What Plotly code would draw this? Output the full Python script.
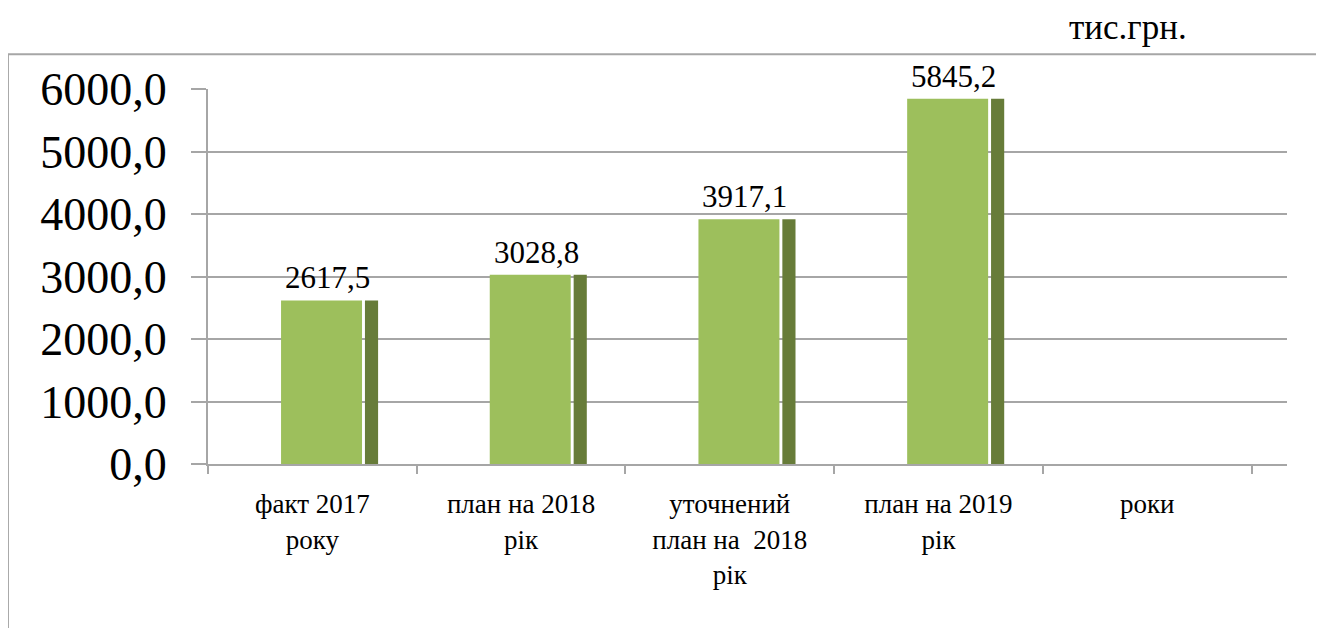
import plotly.graph_objects as go

categories = ["факт 2017<br>року", "план на 2018<br>рік", "уточнений<br>план на\u00a0 2018<br>рік",
              "план на 2019<br>рік", "роки"]
values = [2617.5, 3028.8, 3917.1, 5845.2, None]
value_labels = ["2617,5", "3028,8", "3917,1", "5845,2", ""]
y_ticks = [0, 1000, 2000, 3000, 4000, 5000, 6000]
unit_label = "тис.грн."

FONT = "Liberation Serif"
front_color = "#9DBF5C"
side_color = "#677C39"
grid_color = "#A6A6A6"

fig = go.Figure()
fig.add_trace(go.Bar(x=categories, y=values, width=0.388, offset=-0.15,
                     marker=dict(color=front_color, line=dict(width=0)), hoverinfo="y"))
fig.add_trace(go.Bar(x=categories, y=values, width=0.063, offset=0.252,
                     marker=dict(color=side_color, line=dict(width=0)), hoverinfo="skip"))

for c, v, t in zip(categories, values, value_labels):
    if v is None:
        continue
    fig.add_annotation(x=c, y=v, text=t, showarrow=False, xanchor="center", yanchor="bottom",
                       xshift=15, yshift=3, font=dict(family=FONT, size=31, color="black"))

fig.add_annotation(xref="paper", yref="paper", x=0.853, y=1.163, text=unit_label, showarrow=False,
                   xanchor="center", yanchor="middle", font=dict(family=FONT, size=35, color="black"))

# outer frame (top and left edges visible)
fig.add_shape(type="line", xref="paper", yref="paper", x0=-0.1854, x1=1.05, y0=1.093, y1=1.093,
              line=dict(color=grid_color, width=2))
fig.add_shape(type="line", xref="paper", yref="paper", x0=-0.1854, x1=-0.1854, y0=1.093, y1=-0.45,
              line=dict(color=grid_color, width=2))

fig.update_layout(
    width=1324, height=628,
    margin=dict(l=200, r=45, t=81, b=172),
    barmode="overlay",
    showlegend=False,
    plot_bgcolor="white", paper_bgcolor="white",
    separators=", ",
    font=dict(family=FONT, color="black"),
)
fig.update_xaxes(type="category", range=[-0.5, 4.67], showgrid=False, showline=True,
                 linecolor=grid_color, linewidth=2, ticks="outside", tickson="boundaries",
                 ticklen=8, tickcolor=grid_color, tickwidth=2,
                 tickfont=dict(family=FONT, size=27, color="black"), ticklabelstandoff=15)
fig.update_yaxes(range=[0, 6000], tickvals=y_ticks, tickformat=".1f", showgrid=True,
                 gridcolor=grid_color, gridwidth=2, showline=True, linecolor=grid_color,
                 linewidth=2, ticks="outside", ticklen=15, tickcolor=grid_color, tickwidth=2,
                 zeroline=False, tickfont=dict(family=FONT, size=46, color="black"),
                 ticklabelstandoff=15)

fig.write_html("out.html")
